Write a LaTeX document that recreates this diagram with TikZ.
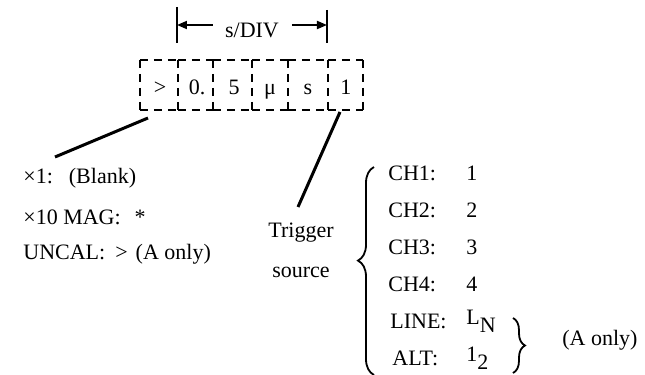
\documentclass[tikz,border=0pt]{standalone}
\usepackage{fontspec}
\setmainfont{Liberation Serif}
\usetikzlibrary{arrows.meta,decorations.pathreplacing,calc}
\begin{document}
\begin{tikzpicture}[x=0.5pt,y=-0.5pt,
  txt/.style={inner sep=0pt,font=\fontsize{11}{13}\selectfont},
  celltxt/.style={txt,anchor=base},
  dsh/.style={line width=0.9pt,dash pattern=on 4pt off 3pt},
  lead/.style={line width=1.5pt},
  tickline/.style={line width=0.9pt},
  dimarr/.style={line width=0.9pt,-{Triangle[length=5pt,width=4pt]}},
  lbrace/.style={decorate,decoration={brace,amplitude=8pt,aspect=0.55},line width=0.9pt},
  rbrace/.style={decorate,decoration={brace,amplitude=6pt},line width=0.9pt}]
\useasboundingbox (0,0) rectangle (645,375);
% dimension s/DIV
\node[txt] (sdiv) at (252,30) {s/DIV};
\coordinate (tlt) at (177,7);  \coordinate (tlb) at (177,43);
\coordinate (trt) at (327,10); \coordinate (trb) at (327,43);
\draw[tickline] (tlt) -- (tlb);
\draw[tickline] (trt) -- (trb);
\coordinate (al) at (213,25); \coordinate (ar) at (292,25);
\draw[dimarr] (al) -- (tlt |- al);
\draw[dimarr] (ar) -- (trt |- ar);
% display cells
\node[celltxt] (c1) at (160,95) {>};
\node[celltxt] (c2) at (197,95) {0.};
\node[celltxt] (c3) at (234,95) {5};
\node[celltxt] (c4) at (270,95) {μ};
\node[celltxt] (c5) at (308,95) {s};
\node[celltxt] (c6) at (346,95) {1};
\foreach \xa/\xb in {140/178,178/213,213/252,252/288,288/328,328/363}{
  \draw[dsh] (\xa,60) -- (\xb,60);
  \draw[dsh] (\xa,110) -- (\xb,110);
}
\foreach \x in {140,178,213,252,288,328,363}{
  \draw[dsh] (\x,60) -- (\x,110);
}
% left labels
\node[txt,anchor=west] (x1) at (23,178) {×1:\hspace{8pt}(Blank)};
\node[txt,anchor=west] (x10) at (23,217) {×10 MAG:\hspace{7pt}*};
\node[txt,anchor=west] (uncal) at (23,254) {UNCAL:\hspace{5pt}>\hspace{4pt}(A only)};
\coordinate (l1a) at (148,118);
\coordinate (l1b) at (55,157);
\draw[lead] (l1a) -- (l1b);
% trigger source
\node[txt] (trig) at (301,233) {Trigger};
\node[txt] (src) at (301,272) {source};
\coordinate (l2a) at (340,112);
\coordinate (l2b) at (298,207);
\draw[lead] (l2a) -- (l2b);
% brace and list
\coordinate (bb) at (374,375); \coordinate (bt) at (374,167);
\draw[lbrace] (bb) -- (bt);
\node[txt,anchor=west] (ch1) at (388,173) {CH1:};
\node[txt,anchor=west] (v1) at (466,173) {1};
\node[txt,anchor=west] (ch2) at (388,210) {CH2:};
\node[txt,anchor=west] (v2) at (466,210) {2};
\node[txt,anchor=west] (ch3) at (388,247) {CH3:};
\node[txt,anchor=west] (v3) at (466,247) {3};
\node[txt,anchor=west] (ch4) at (388,284) {CH4:};
\node[txt,anchor=west] (v4) at (466,284) {4};
\node[txt,anchor=west] (line) at (390,321) {LINE:};
\node[txt,anchor=west] (vl) at (466,321) {L\raisebox{-0.35em}{N}};
\node[txt,anchor=west] (alt) at (392,358) {ALT:};
\node[txt,anchor=west] (va) at (466,358) {1\raisebox{-0.35em}{2}};
\coordinate (rt) at (513,318); \coordinate (rb) at (513,373);
\draw[rbrace] (rt) -- (rb);
\node[txt,anchor=west] (aonly) at (562,340) {(A only)};
\end{tikzpicture}
\end{document}
